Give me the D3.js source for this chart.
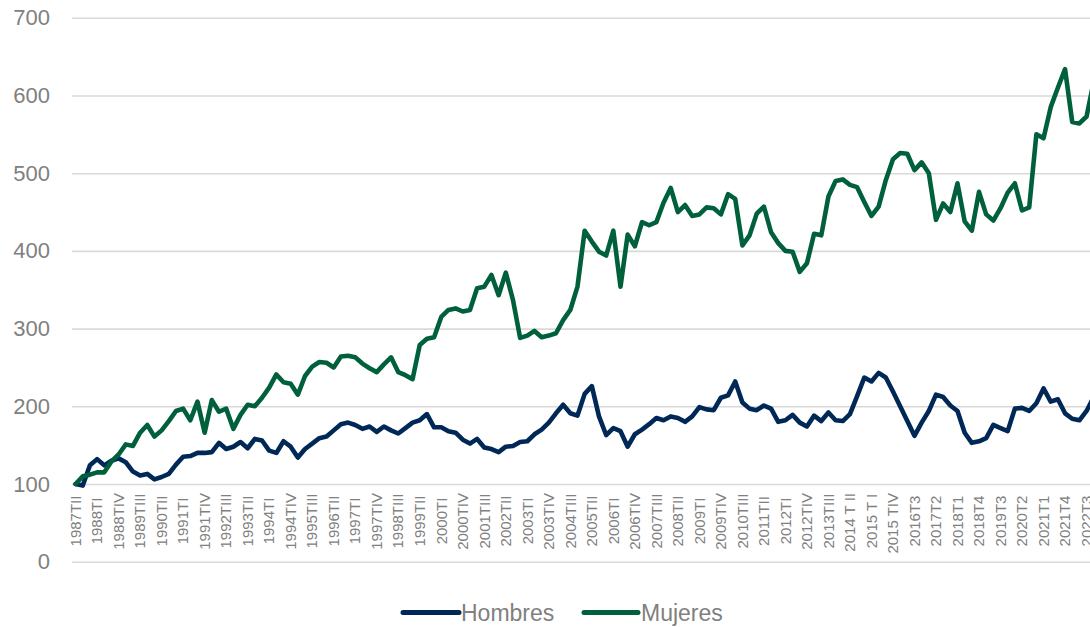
<!DOCTYPE html>
<html lang="es">
<head>
<meta charset="utf-8">
<title>Hombres y Mujeres</title>
<script src="https://cdn.jsdelivr.net/npm/d3@7"></script>
<style>
  html, body { margin: 0; padding: 0; background: #ffffff; }
  svg { display: block; font-family: "Liberation Sans", Arial, sans-serif; }
</style>
</head>
<body>
<svg id="chart" width="1090" height="627"></svg>
<script>
// Quarterly index, 1987 TII = 100 (one value per quarter, 1987TII .. 2022T4)
const hombres = [
  100, 98, 124, 132, 124, 130, 133, 128, 116, 111,
  113, 106, 109, 113, 125, 135, 136, 140, 140, 141,
  153, 145, 148, 154, 146, 158, 156, 143, 140, 155,
  148, 134, 145, 152, 159, 161, 169, 177, 179, 176,
  171, 174, 167, 174, 169, 165, 172, 179, 182, 190,
  173, 173, 168, 166, 157, 152, 158, 147, 145, 141,
  148, 149, 154, 155, 164, 170, 179, 191, 202, 191,
  188, 216, 226, 187, 163, 172, 168, 148, 164, 170,
  177, 185, 182, 187, 185, 180, 187, 199, 196, 195,
  211, 214, 232, 205, 197, 195, 201, 197, 180, 182,
  189, 179, 174, 188, 181, 192, 182, 181, 190, 213,
  237, 232, 243, 237, 219, 200, 181, 162, 179, 194,
  215, 212, 201, 194, 166, 153, 155, 159, 176, 172,
  168, 197, 198, 194, 204, 223, 206, 209, 191, 184,
  182, 194, 212
];

const mujeres = [
  100, 110, 112, 115, 115, 129, 138, 151, 149, 166,
  176, 161, 169, 181, 194, 197, 182, 206, 166, 208,
  193, 197, 171, 189, 202, 200, 211, 224, 241, 231,
  229, 215, 239, 251, 257, 256, 250, 264, 265, 263,
  255, 249, 244, 254, 263, 244, 240, 235, 279, 287,
  289, 315, 324, 326, 322, 324, 352, 354, 369, 343,
  372, 337, 288, 291, 297, 289, 291, 294, 311, 324,
  354, 426, 412, 399, 394, 426, 354, 421, 406, 437,
  433, 437, 462, 481, 450, 459, 445, 447, 456, 455,
  447, 473, 467, 407, 420, 448, 457, 424, 410, 400,
  399, 373, 384, 422, 420, 470, 490, 492, 485, 482,
  463, 445, 457, 491, 518, 526, 525, 504, 514, 500,
  440, 461, 450, 487, 438, 426, 476, 447, 439, 455,
  475, 487, 452, 456, 550, 545, 585, 610, 634, 566,
  564, 573, 618
];

// Category labels shown on the axis, one every third quarter
const tickLabels = [
  "1987TII", "1988TI", "1988TIV", "1989TIII", "1990TII", "1991TI",
  "1991TIV", "1992TIII", "1993TII", "1994TI", "1994TIV", "1995TIII",
  "1996TII", "1997TI", "1997TIV", "1998TIII", "1999TII", "2000TI",
  "2000TIV", "2001TIII", "2002TII", "2003TI", "2003TIV", "2004TIII",
  "2005TII", "2006TI", "2006TIV", "2007TIII", "2008TII", "2009TI",
  "2009TIV", "2010TIII", "2011TII", "2012TI", "2012TIV", "2013TIII",
  "2014 T II", "2015 T I", "2015 TIV", "2016T3", "2017T2", "2018T1",
  "2018T4", "2019T3", "2020T2", "2021T1", "2021T4", "2022T3"
];
const tickStep = 3;

const yTicks = [0, 100, 200, 300, 400, 500, 600, 700];

const seriesNames = ["Hombres", "Mujeres"];
const seriesColors = ["#002856", "#00603c"];

// ---- layout ----
const svg = d3.select("#chart");
const plotLeft = 72;
const bandStep = 7.17;
const nQuarters = mujeres.length;
const plotRight = plotLeft + nQuarters * bandStep;   // runs past the visible edge
const yZero = 561.7, yTop = 17.8;
const gray = "#808080";

const x = d3.scaleBand()
  .domain(d3.range(nQuarters))
  .range([plotLeft, plotRight])
  .padding(0);
const xc = i => x(i) + x.bandwidth() / 2;

const y = d3.scaleLinear().domain([0, 700]).range([yZero, yTop]);

// ---- horizontal gridlines + value labels ----
const yAxis = svg.append("g")
  .attr("transform", `translate(${plotLeft},0)`)
  .call(d3.axisLeft(y).tickValues(yTicks).tickSize(-(plotRight - plotLeft)).tickPadding(22));
yAxis.select(".domain").remove();
yAxis.selectAll(".tick line").attr("stroke", "#d9d9d9").attr("stroke-width", 1.6);
yAxis.selectAll(".tick text")
  .attr("fill", gray)
  .style("font-size", "22px")
  .attr("font-family", null);

// ---- category axis, crossing at 100 ----
const tickIdx = d3.range(0, tickLabels.length).map(k => k * tickStep);
const xAxis = svg.append("g")
  .attr("transform", `translate(0,${y(100)})`)
  .call(d3.axisBottom(x).tickValues(tickIdx).tickFormat(d => tickLabels[d / tickStep]).tickSize(0));
xAxis.select(".domain").remove();
xAxis.selectAll(".tick")
  .attr("transform", d => `translate(${xc(d)},0)`);
xAxis.selectAll(".tick text")
  .attr("fill", gray)
  .attr("font-family", null)
  .style("font-size", "15px")
  .each(function () {
    const len = this.getComputedTextLength();
    const top = Math.max(9, 37 - len / 2);
    d3.select(this)
      .attr("x", 0).attr("y", 0).attr("dy", "0.35em")
      .attr("text-anchor", "end")
      .attr("transform", `translate(0,${top}) rotate(-90)`);
  });

// ---- series lines ----
const line = d3.line()
  .x((d, i) => xc(i))
  .y(d => y(d));

[hombres, mujeres].forEach((vals, k) => {
  svg.append("path")
    .datum(vals)
    .attr("fill", "none")
    .attr("stroke", seriesColors[k])
    .attr("stroke-width", 4.6)
    .attr("stroke-linejoin", "round")
    .attr("stroke-linecap", "round")
    .attr("d", line);
});

// ---- legend ----
const legendItems = [
  { x1: 403, x2: 459, tx: 461 },
  { x1: 584, x2: 638, tx: 641 }
];
const legend = svg.append("g");
seriesNames.forEach((name, k) => {
  const it = legendItems[k];
  legend.append("line")
    .attr("x1", it.x1).attr("x2", it.x2)
    .attr("y1", 612.5).attr("y2", 612.5)
    .attr("stroke", seriesColors[k])
    .attr("stroke-width", 5)
    .attr("stroke-linecap", "round");
  legend.append("text")
    .attr("x", it.tx).attr("y", 620.5)
    .attr("fill", gray)
    .style("font-size", "23px")
    .text(name);
});
</script>
</body>
</html>
